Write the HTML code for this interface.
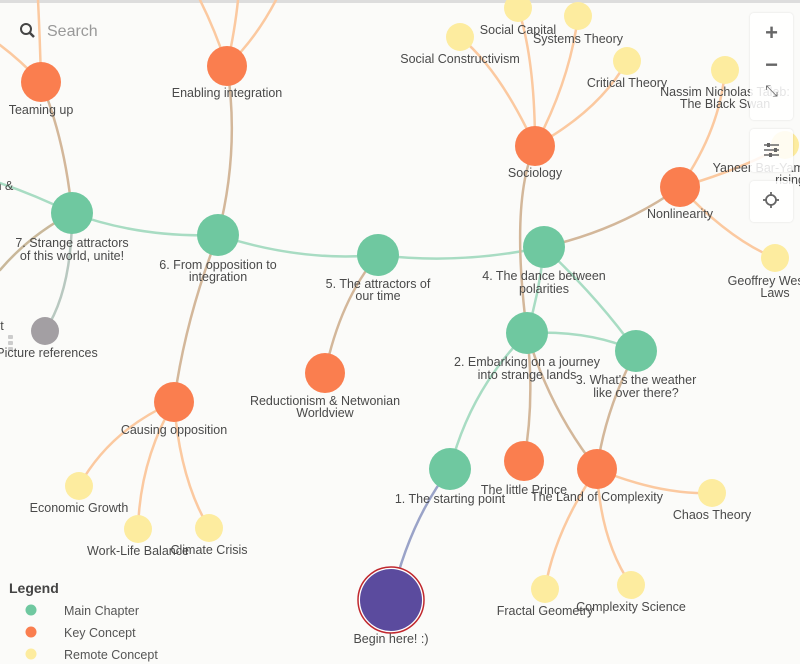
<!DOCTYPE html>
<html><head><meta charset="utf-8"><style>
html,body{margin:0;padding:0;background:#fbfbf9;}
body{width:800px;height:664px;position:relative;overflow:hidden;font-family:"Liberation Sans",sans-serif;}
svg{position:absolute;left:0;top:0;}
.l{font-size:12.5px;fill:#4a4a4a;text-anchor:middle;}
.panel{position:absolute;left:750px;width:43px;background:rgba(255,255,255,0.85);border-radius:4px;box-shadow:0 0 2px rgba(0,0,0,0.12);color:#666;text-align:center;}
</style></head><body>
<svg width="800" height="664" viewBox="0 0 800 664">
<rect x="0" y="0" width="800" height="3" fill="#ddd"/>
<g fill="none" stroke-width="2.5" stroke-linecap="round">
<path d="M72,213 Q140,238 218,235" stroke="#a8dcc3"/>
<path d="M218,235 Q300,262 378,255" stroke="#a8dcc3"/>
<path d="M378,255 Q460,265 544,247" stroke="#a8dcc3"/>
<path d="M72,213 Q35,195 0,183" stroke="#a8dcc3"/>
<path d="M72,213 Q30,235 0,270" stroke="#c9b89a"/>
<path d="M72,213 Q72,290 45,331" stroke="#b8c8c0"/>
<path d="M527,333 Q540,290 544,247" stroke="#a8dcc3"/>
<path d="M544,247 Q600,300 636,351" stroke="#a8dcc3"/>
<path d="M527,333 Q590,330 636,351" stroke="#a8dcc3"/>
<path d="M527,333 Q470,390 450,469" stroke="#a8dcc3"/>
<path d="M450,469 Q410,520 391,600" stroke="#9aa3c8"/>
<path d="M41,82 Q65,140 72,213" stroke="#d3b79a"/>
<path d="M227,66 Q240,150 218,235" stroke="#d3b79a"/>
<path d="M535,146 Q510,200 527,333" stroke="#d3b79a"/>
<path d="M544,247 Q620,230 680,187" stroke="#d3b79a"/>
<path d="M218,235 Q185,320 174,402" stroke="#d3b79a"/>
<path d="M378,255 Q340,300 325,373" stroke="#d3b79a"/>
<path d="M527,333 Q535,400 524,461" stroke="#d3b79a"/>
<path d="M527,333 Q550,410 597,469" stroke="#d3b79a"/>
<path d="M636,351 Q605,410 597,469" stroke="#d3b79a"/>
<g stroke="#fbc9a0">
<path d="M41,82 Q40,40 38,0"/>
<path d="M41,82 Q20,60 0,45"/>
<path d="M227,66 Q215,30 200,0"/>
<path d="M227,66 Q235,30 238,0"/>
<path d="M227,66 Q255,40 276,0"/>
<path d="M535,146 Q500,70 460,37"/>
<path d="M535,146 Q535,60 518,8"/>
<path d="M535,146 Q570,80 578,16"/>
<path d="M535,146 Q600,110 627,61"/>
<path d="M680,187 Q720,130 725,70"/>
<path d="M680,187 Q740,170 785,145"/>
<path d="M680,187 Q730,240 775,258"/>
<path d="M174,402 Q110,430 79,486"/>
<path d="M174,402 Q140,460 138,529"/>
<path d="M174,402 Q180,480 209,528"/>
<path d="M597,469 Q660,495 712,493"/>
<path d="M597,469 Q555,530 545,589"/>
<path d="M597,469 Q600,540 631,585"/>
</g>
</g>
<g fill="#fdec9f">
<circle cx="518" cy="8" r="14"/><circle cx="578" cy="16" r="14"/><circle cx="460" cy="37" r="14"/>
<circle cx="627" cy="61" r="14"/><circle cx="725" cy="70" r="14"/><circle cx="785" cy="145" r="14"/>
<circle cx="775" cy="258" r="14"/><circle cx="79" cy="486" r="14"/><circle cx="138" cy="529" r="14"/>
<circle cx="209" cy="528" r="14"/><circle cx="712" cy="493" r="14"/><circle cx="545" cy="589" r="14"/>
<circle cx="631" cy="585" r="14"/>
</g>
<g fill="#fa7e4f">
<circle cx="41" cy="82" r="20"/><circle cx="227" cy="66" r="20"/><circle cx="535" cy="146" r="20"/>
<circle cx="680" cy="187" r="20"/><circle cx="174" cy="402" r="20"/><circle cx="325" cy="373" r="20"/>
<circle cx="524" cy="461" r="20"/><circle cx="597" cy="469" r="20"/>
</g>
<g fill="#6fc8a0">
<circle cx="72" cy="213" r="21"/><circle cx="218" cy="235" r="21"/><circle cx="378" cy="255" r="21"/>
<circle cx="544" cy="247" r="21"/><circle cx="527" cy="333" r="21"/><circle cx="636" cy="351" r="21"/>
<circle cx="450" cy="469" r="21"/>
</g>
<circle cx="45" cy="331" r="14" fill="#a39fa3"/>
<circle cx="391" cy="600" r="33" fill="#fff" stroke="#c0282e" stroke-width="1.5"/>
<circle cx="391" cy="600" r="31" fill="#5b4b9e"/>
<g fill="#ccc"><rect x="8" y="335" width="5" height="4" rx="1"/><rect x="8" y="341" width="5" height="4" rx="1"/><rect x="8" y="347" width="5" height="4" rx="1"/></g>
<text class="l" x="41" y="114">Teaming up</text>
<text class="l" x="227" y="97">Enabling integration</text>
<text class="l" x="4" y="190">n &amp;</text>
<text class="l" x="72" y="247">7. Strange attractors</text>
<text class="l" x="72" y="260">of this world, unite!</text>
<text class="l" x="218" y="269">6. From opposition to</text>
<text class="l" x="218" y="281">integration</text>
<text class="l" x="378" y="288">5. The attractors of</text>
<text class="l" x="378" y="300">our time</text>
<text class="l" x="544" y="280">4. The dance between</text>
<text class="l" x="544" y="293">polarities</text>
<text class="l" x="527" y="366">2. Embarking on a journey</text>
<text class="l" x="527" y="379">into strange lands</text>
<text class="l" x="636" y="384">3. What's the weather</text>
<text class="l" x="636" y="397">like over there?</text>
<text class="l" x="450" y="503">1. The starting point</text>
<text class="l" x="524" y="494">The little Prince</text>
<text class="l" x="597" y="501">The Land of Complexity</text>
<text class="l" x="712" y="519">Chaos Theory</text>
<text class="l" x="545" y="615">Fractal Geometry</text>
<text class="l" x="631" y="611">Complexity Science</text>
<text class="l" x="391" y="643">Begin here! :)</text>
<text class="l" x="325" y="405">Reductionism &amp; Netwonian</text>
<text class="l" x="325" y="417">Worldview</text>
<text class="l" x="174" y="434">Causing opposition</text>
<text class="l" x="79" y="512">Economic Growth</text>
<text class="l" x="138" y="555">Work-Life Balance</text>
<text class="l" x="209" y="554">Climate Crisis</text>
<text class="l" x="47" y="357">Picture references</text>
<text class="l" x="2" y="330">t</text>
<text class="l" x="535" y="177">Sociology</text>
<text class="l" x="680" y="218">Nonlinearity</text>
<text class="l" x="518" y="34">Social Capital</text>
<text class="l" x="578" y="43">Systems Theory</text>
<text class="l" x="460" y="63">Social Constructivism</text>
<text class="l" x="627" y="87">Critical Theory</text>
<text class="l" x="725" y="96">Nassim Nicholas Taleb:</text>
<text class="l" x="725" y="108">The Black Swan</text>
<text class="l" x="760" y="172">Yaneer Bar-Yam:</text>
<text class="l" x="790" y="184">rising</text>
<text class="l" x="775" y="285">Geoffrey West: S</text>
<text class="l" x="775" y="297">Laws</text>
<circle cx="26" cy="29" r="5" fill="none" stroke="#444" stroke-width="2"/>
<line x1="30" y1="33" x2="34" y2="37" stroke="#444" stroke-width="2.5"/>
<text x="47" y="36" font-size="16" fill="#999">Search</text>
<text x="9" y="593" font-size="14" font-weight="bold" fill="#444">Legend</text>
<circle cx="31" cy="610" r="5.5" fill="#6fc8a0"/><text x="64" y="615" font-size="12.5" fill="#555">Main Chapter</text>
<circle cx="31" cy="632" r="5.5" fill="#fa7e4f"/><text x="64" y="637" font-size="12.5" fill="#555">Key Concept</text>
<circle cx="31" cy="654" r="5.5" fill="#fdec9f"/><text x="64" y="659" font-size="12.5" fill="#555">Remote Concept</text>
</svg>
<div class="panel" style="top:13px;height:107px;">
<div style="font-size:22px;line-height:22px;margin-top:9px;font-weight:bold;">+</div>
<div style="font-size:22px;line-height:22px;margin-top:10px;font-weight:bold;">−</div>
<div style="font-size:16px;line-height:16px;margin-top:8px;">⤡</div>
</div>
<div class="panel" style="top:129px;height:43px;">
<svg width="43" height="43" style="position:static"><g stroke="#666" stroke-width="1.5"><line x1="14" y1="16" x2="29" y2="16"/><line x1="14" y1="21" x2="29" y2="21"/><line x1="14" y1="26" x2="29" y2="26"/></g><g fill="#666"><rect x="17" y="14" width="3" height="4"/><rect x="24" y="19" width="3" height="4"/><rect x="19" y="24" width="3" height="4"/></g></svg>
</div>
<div class="panel" style="top:181px;height:41px;">
<svg width="43" height="41" style="position:static"><circle cx="21" cy="19" r="5" fill="none" stroke="#666" stroke-width="1.8"/><g stroke="#666" stroke-width="1.8"><line x1="21" y1="11" x2="21" y2="15"/><line x1="21" y1="23" x2="21" y2="27"/><line x1="13" y1="19" x2="17" y2="19"/><line x1="25" y1="19" x2="29" y2="19"/></g></svg>
</div>
</body></html>
